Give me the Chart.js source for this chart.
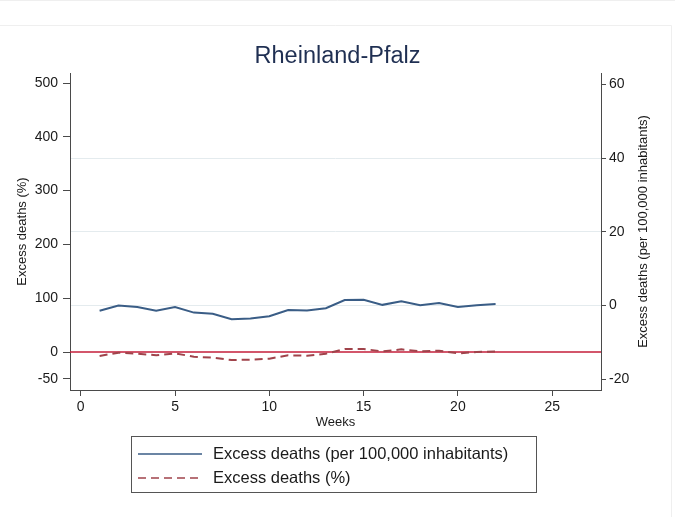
<!DOCTYPE html>
<html><head><meta charset="utf-8">
<script src="https://cdn.jsdelivr.net/npm/chart.js@4.4.1/dist/chart.umd.min.js"></script>
<style>html,body{margin:0;padding:0;background:#fff}#wrap{width:675px;height:517px;position:relative}</style>
</head><body><div id="wrap"><canvas id="c" width="675" height="517"></canvas></div>
<script>
// ---- data ----
const TITLE = 'Rheinland-Pfalz';
const X_TITLE = 'Weeks';
const LEFT_TITLE = 'Excess deaths (%)';
const RIGHT_TITLE = 'Excess deaths (per 100,000 inhabitants)';
const SERIES_PER_CAPITA = 'Excess deaths (per 100,000 inhabitants)';
const SERIES_PERCENT = 'Excess deaths (%)';
const weeks = [1,2,3,4,5,6,7,8,9,10,11,12,13,14,15,16,17,18,19,20,21,22];
const perCapita = [-1.4,0.0,-0.4,-1.4,-0.4,-1.9,-2.2,-3.7,-3.5,-2.9,-1.2,-1.3,-0.7,1.5,1.6,0.2,1.2,0.1,0.7,-0.4,0.1,0.4];
const percent = [-7.4,-1.2,-3.0,-6.0,-2.5,-8.7,-10.5,-14.9,-14.2,-12.4,-6.2,-6.8,-3.1,5.6,5.6,1.2,4.9,1.2,2.5,-2.5,0.0,1.2];
const xTicks = [0,5,10,15,20,25];
const leftTicks = [-50,0,100,200,300,400,500];
const rightTicks = [-20,0,20,40,60];
const rightGridValues = [0,20,40];
const xRange = [-0.57, 27.59];
const leftRange = [-70.6, 518.6];
const rightRange = [-22.9, 63.1];
const refLineValue = 0;

// ---- styles ----
const FONT = "'Liberation Sans', Arial, Helvetica, sans-serif";
Chart.defaults.font.family = FONT;
Chart.defaults.color = '#1a1a1a';
const AXIS = '#4a4a4a';
const BLUE = '#3a5d86';
const MAROON = '#a0434b';
const RED = '#c41e3a';
const GRID = '#e4ebee';

const extras = {
  id: 'extras',
  beforeDraw(chart) {
    const ctx = chart.ctx;
    ctx.save();
    ctx.fillStyle = '#fff';
    ctx.fillRect(0, 0, chart.width, chart.height);
    ctx.strokeStyle = '#efefef';
    ctx.lineWidth = 1;
    ctx.beginPath();
    ctx.moveTo(0, 0.5); ctx.lineTo(chart.width, 0.5);
    ctx.moveTo(0, 25.5); ctx.lineTo(671.5, 25.5); ctx.lineTo(671.5, chart.height);
    ctx.stroke();
    ctx.restore();
  },
  beforeDatasetsDraw(chart) {
    const ctx = chart.ctx;
    const y = chart.scales.yL.getPixelForValue(refLineValue);
    const {left, right} = chart.chartArea;
    ctx.save();
    ctx.strokeStyle = RED;
    ctx.lineWidth = 1.5;
    ctx.beginPath();
    ctx.moveTo(left, y); ctx.lineTo(right, y);
    ctx.stroke();
    ctx.restore();
  },
  afterDraw(chart) {
    const ctx = chart.ctx;
    const ca = chart.chartArea;
    ctx.save();
    // right axis title (reads bottom to top)
    ctx.fillStyle = '#1a1a1a';
    ctx.font = '13px ' + FONT;
    ctx.textAlign = 'center';
    ctx.textBaseline = 'middle';
    ctx.translate(643, (ca.top + ca.bottom) / 2);
    ctx.rotate(-Math.PI / 2);
    ctx.fillText(RIGHT_TITLE, 0, 0);
    ctx.restore();

    // legend box
    ctx.save();
    const bx = 131.5, by = 436.5, bw = 405, bh = 56;
    ctx.strokeStyle = '#555';
    ctx.lineWidth = 1;
    ctx.strokeRect(bx, by, bw, bh);
    const rows = [454, 478];
    chart.data.datasets.forEach((ds, i) => {
      const y = rows[i];
      ctx.strokeStyle = ds.borderColor;
      ctx.lineWidth = 1.5;
      ctx.setLineDash(ds.borderDash || []);
      ctx.beginPath();
      ctx.moveTo(138, y); ctx.lineTo(202, y);
      ctx.stroke();
      ctx.setLineDash([]);
      ctx.fillStyle = '#1a1a1a';
      ctx.font = '16.5px ' + FONT;
      ctx.textAlign = 'left';
      ctx.textBaseline = 'middle';
      ctx.fillText(ds.label, 213, y);
    });
    ctx.restore();
  }
};

const tickFont = {size: 14};
new Chart(document.getElementById('c'), {
  type: 'line',
  data: {
    datasets: [
      {
        label: SERIES_PER_CAPITA,
        data: weeks.map((w, i) => ({x: w, y: perCapita[i]})),
        yAxisID: 'yR',
        borderColor: BLUE,
        borderWidth: 2,
        pointRadius: 0,
        tension: 0,
        fill: false
      },
      {
        label: SERIES_PERCENT,
        data: weeks.map((w, i) => ({x: w, y: percent[i]})),
        yAxisID: 'yL',
        borderColor: MAROON,
        borderWidth: 2,
        borderDash: [8, 5],
        pointRadius: 0,
        tension: 0,
        fill: false
      }
    ]
  },
  options: {
    responsive: false,
    animation: false,
    devicePixelRatio: 1,
    layout: {padding: {left: 0, right: 0, top: 0, bottom: 87}},
    plugins: {
      legend: {display: false},
      tooltip: {enabled: false},
      title: {
        display: true,
        text: TITLE,
        color: '#1f2f52',
        font: {size: 23.5, weight: 'normal'},
        padding: {top: 42.7, bottom: 2.1}
      }
    },
    scales: {
      x: {
        type: 'linear',
        min: xRange[0], max: xRange[1],
        afterBuildTicks: s => { s.ticks = xTicks.map(v => ({value: v})); },
        afterFit: s => { s.height = 40; },
        ticks: {font: tickFont, padding: 2.5, maxRotation: 0, color: '#1a1a1a'},
        grid: {drawOnChartArea: false, drawTicks: true, tickLength: 6, tickColor: AXIS},
        border: {display: true, color: AXIS, width: 1},
        title: {display: true, text: X_TITLE, font: {size: 13}, padding: {top: 0, bottom: 0}, color: '#1a1a1a'}
      },
      yL: {
        type: 'linear',
        position: 'left',
        min: leftRange[0], max: leftRange[1],
        afterBuildTicks: s => { s.ticks = leftTicks.map(v => ({value: v})); },
        afterFit: s => { s.width = 70; },
        ticks: {font: tickFont, padding: 5, color: '#1a1a1a'},
        grid: {drawOnChartArea: false, drawTicks: true, tickLength: 7, tickColor: AXIS},
        border: {display: true, color: AXIS, width: 1},
        title: {display: true, text: LEFT_TITLE, font: {size: 13}, padding: {top: 15, bottom: 0}, color: '#1a1a1a'}
      },
      yR: {
        type: 'linear',
        position: 'right',
        min: rightRange[0], max: rightRange[1],
        afterBuildTicks: s => { s.ticks = rightTicks.map(v => ({value: v})); },
        afterFit: s => { s.width = 74; },
        ticks: {font: tickFont, padding: 3, color: '#1a1a1a'},
        grid: {
          drawOnChartArea: true, drawTicks: true, tickLength: 5, tickColor: AXIS,
          color: c => (c.tick && rightGridValues.includes(c.tick.value)) ? GRID : 'rgba(0,0,0,0)',
          lineWidth: 1
        },
        border: {display: true, color: AXIS, width: 1},
        title: {display: false}
      }
    }
  },
  plugins: [extras]
});
</script>
</body></html>
